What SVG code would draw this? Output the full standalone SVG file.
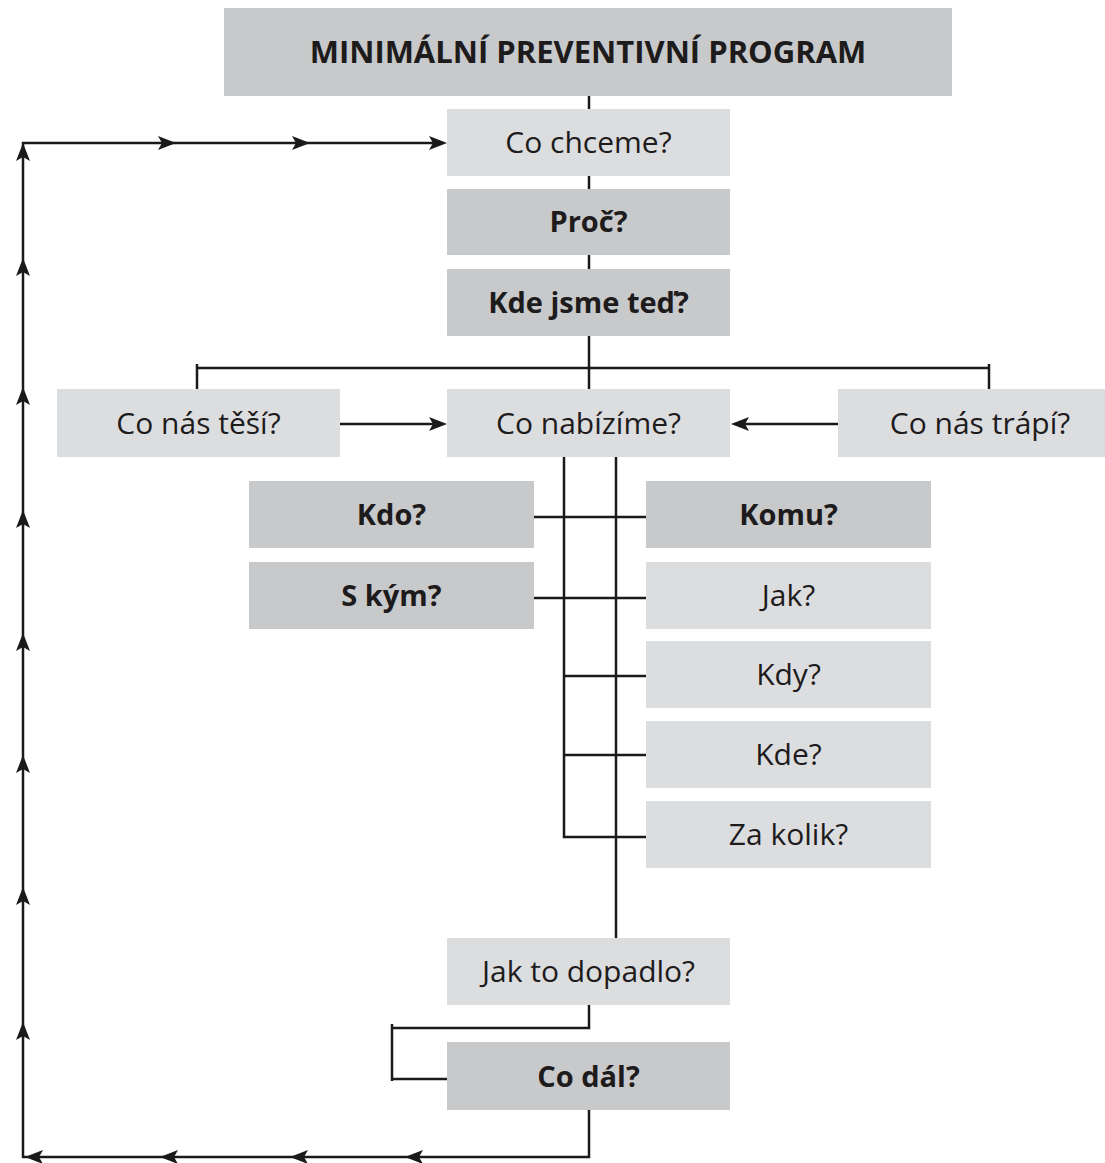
<svg xmlns="http://www.w3.org/2000/svg" xmlns:xlink="http://www.w3.org/1999/xlink" width="1105" height="1163" viewBox="0 0 1105 1163">
<style>
  .dark { fill: #c8c9cb; }
  .light { fill: #dcdddf; }
  text { font-family: "Open Sans", "Noto Sans", "Liberation Sans", sans-serif; font-size: 30px; fill: #1e1b1c; text-anchor: middle; }
  .b { font-weight: bold; font-size: 29px; }
  .t { font-weight: bold; font-size: 31px; }
  .conn { fill: none; stroke: #1a1a1a; stroke-width: 2.5; stroke-linecap: butt; stroke-linejoin: miter; }
  .ah { fill: #1a1a1a; }
</style>
<defs>
  <path id="ah" class="ah" d="M0,0 L-18,-7 L-14,0 L-18,7 Z"/>
</defs>
<rect width="1105" height="1163" fill="#ffffff"/>

<g id="connectors">
  <path class="conn" d="M589,96 V109 M589,176 V189 M589,255 V269 M589,335 V389"/>
  <path class="conn" d="M197,389 V364 M197,368 H989 M989,364 V389"/>
  <path class="conn" d="M340,424 H440 M838,424 H738"/>
  <path class="conn" d="M564,457 V837 H646 M616,457 V938"/>
  <path class="conn" d="M534,517 H646 M534,598 H646 M564,676 H646 M564,755 H646"/>
  <path class="conn" d="M589,1005 V1028 H392 M392,1024 V1081 M392,1079 H447"/>
  <path class="conn" d="M589,1110 V1157 H23 V143 H440"/>
  <use xlink:href="#ah" transform="translate(447,424)"/>
  <use xlink:href="#ah" transform="translate(731,424) rotate(180)"/>
  <use xlink:href="#ah" transform="translate(176,143)"/>
  <use xlink:href="#ah" transform="translate(310,143)"/>
  <use xlink:href="#ah" transform="translate(447,143)"/>
  <use xlink:href="#ah" transform="translate(25,1157) rotate(180)"/>
  <use xlink:href="#ah" transform="translate(160,1157) rotate(180)"/>
  <use xlink:href="#ah" transform="translate(290,1157) rotate(180)"/>
  <use xlink:href="#ah" transform="translate(405,1157) rotate(180)"/>
  <use xlink:href="#ah" transform="translate(23,143) rotate(-90)"/>
  <use xlink:href="#ah" transform="translate(23,258) rotate(-90)"/>
  <use xlink:href="#ah" transform="translate(23,387) rotate(-90)"/>
  <use xlink:href="#ah" transform="translate(23,510) rotate(-90)"/>
  <use xlink:href="#ah" transform="translate(23,633) rotate(-90)"/>
  <use xlink:href="#ah" transform="translate(23,755) rotate(-90)"/>
  <use xlink:href="#ah" transform="translate(23,887) rotate(-90)"/>
  <use xlink:href="#ah" transform="translate(23,1022) rotate(-90)"/>
</g>

<g id="n-title"><rect class="dark" x="224" y="8" width="728" height="88"/><text class="t" x="588" y="63">MINIMÁLNÍ PREVENTIVNÍ PROGRAM</text></g>
<g id="n-cochceme"><rect class="light" x="447" y="109" width="283" height="67"/><text x="588.5" y="153">Co chceme?</text></g>
<g id="n-proc"><rect class="dark" x="447" y="189" width="283" height="66"/><text class="b" x="588.5" y="232">Proč?</text></g>
<g id="n-kdejsme"><rect class="dark" x="447" y="269" width="283" height="67"/><text class="b" x="588.5" y="313">Kde jsme teď?</text></g>
<g id="n-tesi"><rect class="light" x="57" y="389" width="283" height="68"/><text x="198.5" y="434">Co nás těší?</text></g>
<g id="n-nabizime"><rect class="light" x="447" y="389" width="283" height="68"/><text x="588.5" y="434">Co nabízíme?</text></g>
<g id="n-trapi"><rect class="light" x="838" y="389" width="284" height="68"/><text x="980" y="434">Co nás trápí?</text></g>
<g id="n-kdo"><rect class="dark" x="249" y="481" width="285" height="67"/><text class="b" x="391.5" y="525">Kdo?</text></g>
<g id="n-skym"><rect class="dark" x="249" y="562" width="285" height="67"/><text class="b" x="391.5" y="606">S kým?</text></g>
<g id="n-komu"><rect class="dark" x="646" y="481" width="285" height="67"/><text class="b" x="788.5" y="525">Komu?</text></g>
<g id="n-jak"><rect class="light" x="646" y="562" width="285" height="67"/><text x="788.5" y="606">Jak?</text></g>
<g id="n-kdy"><rect class="light" x="646" y="641" width="285" height="67"/><text x="788.5" y="685">Kdy?</text></g>
<g id="n-kde"><rect class="light" x="646" y="721" width="285" height="67"/><text x="788.5" y="765">Kde?</text></g>
<g id="n-zakolik"><rect class="light" x="646" y="801" width="285" height="67"/><text x="788.5" y="845">Za kolik?</text></g>
<g id="n-dopadlo"><rect class="light" x="447" y="938" width="283" height="67"/><text x="588.5" y="982">Jak to dopadlo?</text></g>
<g id="n-codal"><rect class="dark" x="447" y="1042" width="283" height="68"/><text class="b" x="588.5" y="1087">Co dál?</text></g>
</svg>
